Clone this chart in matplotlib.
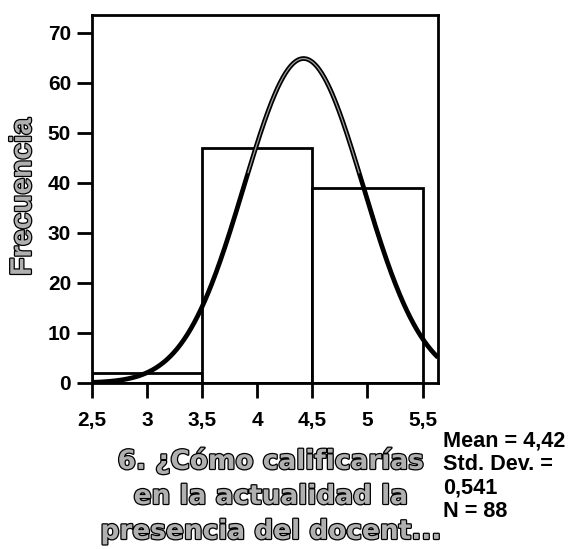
import numpy as np
import matplotlib
matplotlib.use("Agg")
import matplotlib.pyplot as plt
import matplotlib.patheffects as pe

# histogram data
bin_edges = [2.5, 3.5, 4.5, 5.5]
counts = [2, 47, 39]
mean = 4.42
std_dev = 0.541
n = 88
xticks = [2.5, 3, 3.5, 4, 4.5, 5, 5.5]
xtick_labels = ["2,5", "3", "3,5", "4", "4,5", "5", "5,5"]
yticks = [0, 10, 20, 30, 40, 50, 60, 70]

plt.rcParams['font.family'] = ['Liberation Sans', 'DejaVu Sans']

fig = plt.figure(figsize=(5.71, 5.49), dpi=100)
ax = fig.add_axes([0.1611, 0.3024, 0.606, 0.6703])

widths = np.diff(bin_edges)
ax.bar(bin_edges[:-1], counts, width=widths, align='edge',
       facecolor='white', edgecolor='black', linewidth=2.0, zorder=2)

# normal curve scaled to counts (bin width 1)
xs = np.linspace(2.5, 5.64, 400)
bw = widths[0]
ys = n * bw / (std_dev * np.sqrt(2 * np.pi)) * np.exp(-0.5 * ((xs - mean) / std_dev) ** 2)
ax.plot(xs, ys, color='black', linewidth=3.4, zorder=3, solid_capstyle='butt')
# lighter streak along the upper part of the curve (as in the scan)
ax.plot(xs, np.ma.masked_where(ys < 42, ys), color='#a0a0a0', linewidth=0.9, zorder=4)

ax.set_xlim(2.5, 5.64)
ax.set_ylim(0, 73.6)
ax.set_xticks(xticks)
ax.set_xticklabels(xtick_labels)
ax.set_yticks(yticks)
for s in ax.spines.values():
    s.set_linewidth(2.0)
ax.tick_params(axis='both', direction='out', length=11, width=2.0,
               labelsize=15)
ax.tick_params(axis='x', pad=9)
ax.tick_params(axis='y', pad=4)
for tl in ax.get_xticklabels() + ax.get_yticklabels():
    tl.set_fontweight('bold')

hollow = [pe.withStroke(linewidth=1.8, foreground='black')]
fig.text(0.04, 0.641, 'Frecuencia', rotation=90, ha='center', va='center',
         fontsize=21.5, fontweight='bold', color='#b0b0b0', path_effects=hollow)

fig.text(0.4746, 0.186, "6. ¿Cómo calificarías\nen la actualidad la\npresencia del docent...",
         ha='center', va='top', fontsize=19, fontweight='bold', color='#b0b0b0',
         family='DejaVu Sans', linespacing=1.45, path_effects=hollow)

fig.text(0.776, 0.215, "Mean = 4,42\nStd. Dev. =\n0,541\nN = 88",
         ha='left', va='top', fontsize=15.6, fontweight='bold', linespacing=1.15)

fig.savefig('out.png', dpi=100)
